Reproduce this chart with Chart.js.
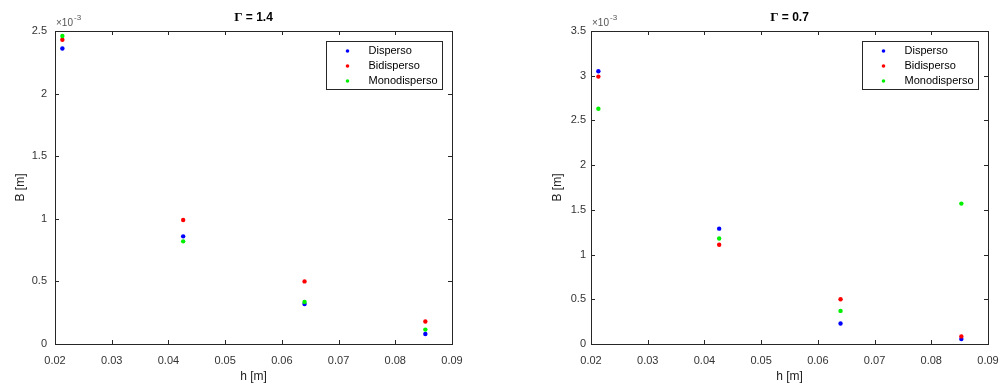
<!DOCTYPE html>
<html>
<head>
<meta charset="utf-8">
<script src="https://cdn.jsdelivr.net/npm/chart.js@4"></script>
<style>
  body { margin: 0; background: #fff; }
  #wrap { position: relative; width: 1000px; height: 385px; }
  canvas { position: absolute; top: 0; }
</style>
</head>
<body>
<div id="wrap">
  <canvas id="chartLeft" width="500" height="385" style="left:0"></canvas>
  <canvas id="chartRight" width="500" height="385" style="left:500px"></canvas>
</div>
<script>
// h [m] positions of the four measurements
const hValues = [0.0213, 0.0426, 0.0640, 0.0853];
const seriesNames = ['Disperso', 'Bidisperso', 'Monodisperso'];
const xTicks = [0.02, 0.03, 0.04, 0.05, 0.06, 0.07, 0.08, 0.09];

// B values, in units of 1e-3 m
// Gamma = 1.4
const disperso14 = [2.36, 0.86, 0.32, 0.08];
const bidisperso14 = [2.43, 0.99, 0.50, 0.18];
const monodisperso14 = [2.46, 0.82, 0.335, 0.115];
const yTicks14 = [0, 0.5, 1, 1.5, 2, 2.5];
// Gamma = 0.7
const disperso07 = [3.05, 1.29, 0.23, 0.055];
const bidisperso07 = [2.99, 1.11, 0.50, 0.085];
const monodisperso07 = [2.63, 1.18, 0.37, 1.57];
const yTicks07 = [0, 0.5, 1, 1.5, 2, 2.5, 3, 3.5];

const colors = ['#0000ff', '#ff0000', '#00f000'];
const FONT = "'Liberation Sans', Arial, sans-serif";
Chart.defaults.font.family = FONT;
Chart.defaults.color = '#333';

function toPoints(arr) {
    return arr.map((v, i) => ({ x: hValues[i], y: v }));
}

const matlabFrame = {
    id: 'matlabFrame',
    beforeDraw(chart) {
        let ctx = chart.ctx;
        ctx.save();
        ctx.fillStyle = '#fff';
        ctx.fillRect(0, 0, chart.width, chart.height);
        ctx.restore();
    },
    afterDraw(chart) {
        let ctx = chart.ctx;
        let a = chart.chartArea;
        let xs = chart.scales.x, ys = chart.scales.y;
        let o = chart.options.plugins.matlabFrame;
        ctx.save();
        // box
        ctx.strokeStyle = '#262626';
        ctx.lineWidth = 1;
        ctx.strokeRect(Math.round(a.left) + 0.5, Math.round(a.top) + 0.5,
            Math.round(a.right - a.left), Math.round(a.bottom - a.top));
        // inward ticks
        let tl = 4;
        ctx.beginPath();
        xs.ticks.forEach(t => {
            let px = Math.round(xs.getPixelForValue(t.value)) + 0.5;
            ctx.moveTo(px, a.bottom); ctx.lineTo(px, a.bottom - tl);
            ctx.moveTo(px, a.top); ctx.lineTo(px, a.top + tl);
        });
        ys.ticks.forEach(t => {
            let py = Math.round(ys.getPixelForValue(t.value)) + 0.5;
            ctx.moveTo(a.left, py); ctx.lineTo(a.left + tl, py);
            ctx.moveTo(a.right, py); ctx.lineTo(a.right - tl, py);
        });
        ctx.stroke();
        // title
        let cx = (a.left + a.right) / 2;
        ctx.fillStyle = '#000';
        ctx.textBaseline = 'middle';
        ctx.textAlign = 'left';
        let g = 'Γ';
        let rest = ' = ' + o.gamma;
        ctx.font = "bold 13px 'Liberation Serif', serif";
        let gw = ctx.measureText(g).width;
        ctx.font = "bold 12px " + FONT;
        let rw = ctx.measureText(rest).width;
        let sx = cx - (gw + rw) / 2;
        ctx.font = "bold 13px 'Liberation Serif', serif";
        ctx.fillText(g, sx, 18);
        ctx.font = "bold 12px " + FONT;
        ctx.fillText(rest, sx + gw, 18);
        // exponent
        ctx.fillStyle = '#555';
        ctx.font = '10px ' + FONT;
        ctx.fillText('\u00d710', a.left + 1, 23);
        let ew = ctx.measureText('\u00d710').width;
        ctx.font = '8px ' + FONT;
        ctx.fillText('-3', a.left + 1 + ew + 1, 18);
        // legend
        let lw = 116, lh = 48;
        let lx = Math.round(a.right - 10 - lw) + 0.5, ly = Math.round(a.top + 10) + 0.5;
        ctx.fillStyle = '#fff';
        ctx.fillRect(lx, ly, lw, lh);
        ctx.strokeStyle = '#262626';
        ctx.strokeRect(lx, ly, lw, lh);
        ctx.font = '11px ' + FONT;
        chart.data.datasets.forEach((ds, i) => {
            let ry = ly + 9.5 + i * 15;
            ctx.fillStyle = ds.backgroundColor;
            ctx.beginPath();
            ctx.arc(lx + 21, ry, 1.8, 0, Math.PI * 2);
            ctx.fill();
            ctx.fillStyle = '#000';
            ctx.fillText(ds.label, lx + 42, ry);
        });
        ctx.restore();
    }
};

function makeChart(id, gamma, series, yTicks, frame) {
    let ctx = document.getElementById(id);
    return new Chart(ctx, {
        type: 'scatter',
        data: {
            datasets: series.map((s, i) => ({
                label: seriesNames[i],
                data: toPoints(s),
                backgroundColor: colors[i],
                borderWidth: 0,
                pointRadius: 2.2,
                order: 3 - i,
            })),
        },
        plugins: [matlabFrame],
        options: {
            responsive: false,
            animation: false,
            devicePixelRatio: 1,
            layout: { padding: { left: 0, top: 31, right: frame.right, bottom: 0 } },
            scales: {
                x: {
                    type: 'linear',
                    min: 0.02,
                    max: 0.09,
                    afterBuildTicks: (sc) => { sc.ticks = xTicks.map(v => ({ value: v })); },
                    ticks: {
                        padding: 10,
                        font: { size: 11 },
                        color: '#333',
                        callback: (v) => Number(v).toFixed(2),
                    },
                    grid: { display: false, drawTicks: false },
                    border: { display: false },
                    title: {
                        display: true,
                        text: 'h [m]',
                        font: { size: 12 },
                        color: '#222',
                        padding: { top: 0, bottom: 1 },
                    },
                    afterFit: (sc) => {
                        sc.height = 41;
                        sc.paddingLeft = 0;
                        sc.paddingRight = 0;
                    },
                },
                y: {
                    type: 'linear',
                    min: 0,
                    max: yTicks[yTicks.length - 1],
                    afterBuildTicks: (sc) => { sc.ticks = yTicks.map(v => ({ value: v })); },
                    ticks: {
                        padding: frame.tickPad,
                        font: { size: 11 },
                        color: '#333',
                        callback: (v) => String(v),
                    },
                    grid: { display: false, drawTicks: false },
                    border: { display: false },
                    title: {
                        display: true,
                        text: 'B [m]',
                        font: { size: 12 },
                        color: '#222',
                        padding: { top: frame.titlePad, bottom: 0 },
                    },
                    afterFit: (sc) => {
                        sc.width = frame.yWidth;
                        sc.paddingTop = 0;
                        sc.paddingBottom = 0;
                    },
                },
            },
            plugins: {
                legend: { display: false },
                tooltip: { enabled: false },
                matlabFrame: { gamma: gamma },
            },
        },
    });
}

makeChart('chartLeft', '1.4', [disperso14, bidisperso14, monodisperso14], yTicks14,
    { right: 48, yWidth: 55, titlePad: 13, tickPad: 8 });
makeChart('chartRight', '0.7', [disperso07, bidisperso07, monodisperso07], yTicks07,
    { right: 12, yWidth: 91, titlePad: 50, tickPad: 5 });
</script>
</body>
</html>
